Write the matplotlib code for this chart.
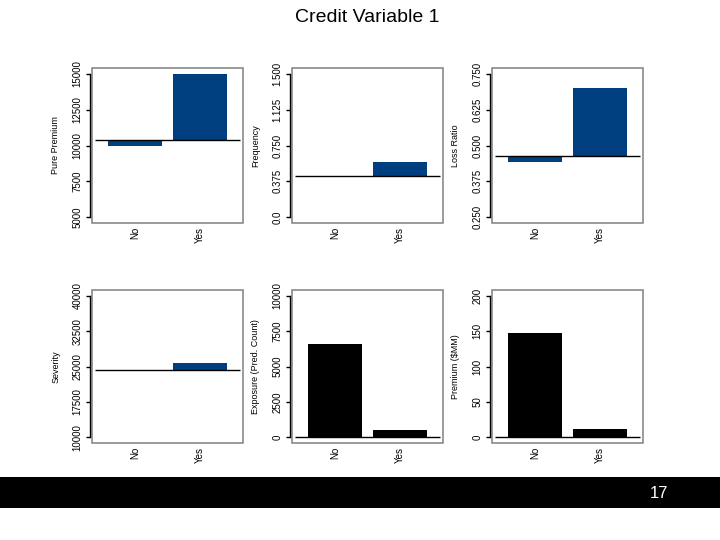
import matplotlib
matplotlib.use("Agg")
import matplotlib.pyplot as plt
from matplotlib.patches import Rectangle

plt.rcParams['font.family'] = ['Liberation Sans', 'DejaVu Sans']

categories = ['No', 'Yes']

pure_premium = [9950, 15000]
pure_premium_ref = 10350
frequency = [0.417, 0.582]
frequency_ref = 0.435
loss_ratio = [0.444, 0.702]
loss_ratio_ref = 0.464
severity = [24030, 25760]
severity_ref = 24300
exposure = [6580, 510]
premium = [147.4, 11.6]

pp_ticks = [5000, 7500, 10000, 12500, 15000]
freq_ticks = [0.0, 0.375, 0.75, 1.125, 1.5]
freq_labels = ['0.0', '0.375', '0.750', '1.125', '1.500']
lr_ticks = [0.25, 0.375, 0.5, 0.625, 0.75]
lr_labels = ['0.250', '0.375', '0.500', '0.625', '0.750']
sev_ticks = [10000, 17500, 25000, 32500, 40000]
exp_ticks = [0, 2500, 5000, 7500, 10000]
prem_ticks = [0, 50, 100, 150, 200]

BLUE = '#003f7f'
W, H = 720, 540


def panel(fig, x0, y0, x1, y1, values, ref, ticks, tick_labels, ylabel, color):
    ax = fig.add_axes([x0 / W, (H - y1) / H, (x1 - x0) / W, (y1 - y0) / H])
    pos = [0.7, 1.9]
    heights = [v - ref for v in values]
    ax.bar(pos, heights, width=1.0, bottom=ref, color=color, edgecolor=color, linewidth=0)
    ax.hlines(ref, -0.04, 2.65, color='black', linewidth=1)
    ax.set_xlim(-0.104, 2.704)
    span = ticks[-1] - ticks[0]
    ax.set_ylim(ticks[0] - 0.04 * span, ticks[-1] + 0.04 * span)

    for s in ['top', 'right', 'bottom']:
        ax.spines[s].set_visible(False)
    ax.spines['left'].set_position(('outward', 1.3))
    ax.spines['left'].set_bounds(ticks[0], ticks[-1])
    ax.spines['left'].set_linewidth(1)
    ax.add_patch(Rectangle((0, 0), 1, 1, transform=ax.transAxes, fill=False,
                           edgecolor='#808080', linewidth=1.1, clip_on=False))

    ax.set_yticks(ticks)
    ax.set_yticklabels(tick_labels, rotation=90, va='center', fontsize=7)
    ax.tick_params(axis='y', length=3, width=1, pad=2.5)
    ax.set_xticks(pos)
    ax.set_xticklabels(categories, rotation=90, va='top', fontsize=7)
    ax.tick_params(axis='x', length=0, pad=3)
    ax.set_ylabel(ylabel, fontsize=6.5)
    ax.yaxis.set_label_coords(-0.21, 0.5)
    return ax


fig = plt.figure(figsize=(7.2, 5.4), dpi=100)
fig.text(367 / W, 1 - 18 / H, 'Credit Variable 1', ha='center', va='center', fontsize=14)

cols = [(92, 243), (292, 443), (492, 643)]
top = (68, 223)
bot = (290, 443)

panel(fig, cols[0][0], top[0], cols[0][1], top[1], pure_premium, pure_premium_ref,
      pp_ticks, [str(t) for t in pp_ticks], 'Pure Premium', BLUE)
panel(fig, cols[1][0], top[0], cols[1][1], top[1], frequency, frequency_ref,
      freq_ticks, freq_labels, 'Frequency', BLUE)
panel(fig, cols[2][0], top[0], cols[2][1], top[1], loss_ratio, loss_ratio_ref,
      lr_ticks, lr_labels, 'Loss Ratio', BLUE)
panel(fig, cols[0][0], bot[0], cols[0][1], bot[1], severity, severity_ref,
      sev_ticks, [str(t) for t in sev_ticks], 'Severity', BLUE)
panel(fig, cols[1][0], bot[0], cols[1][1], bot[1], exposure, 0,
      exp_ticks, [str(t) for t in exp_ticks], 'Exposure (Pred. Count)', 'black')
panel(fig, cols[2][0], bot[0], cols[2][1], bot[1], premium, 0,
      prem_ticks, [str(t) for t in prem_ticks], r'Premium (\$MM)', 'black')

# black footer band with page number
fig.patches.append(Rectangle((0, (H - 508) / H), 1, 31 / H, transform=fig.transFigure,
                             facecolor='black', edgecolor='none'))
fig.text(659 / W, 1 - 493 / H, '17', ha='center', va='center', color='white', fontsize=12)

fig.savefig('out.png', dpi=100)
